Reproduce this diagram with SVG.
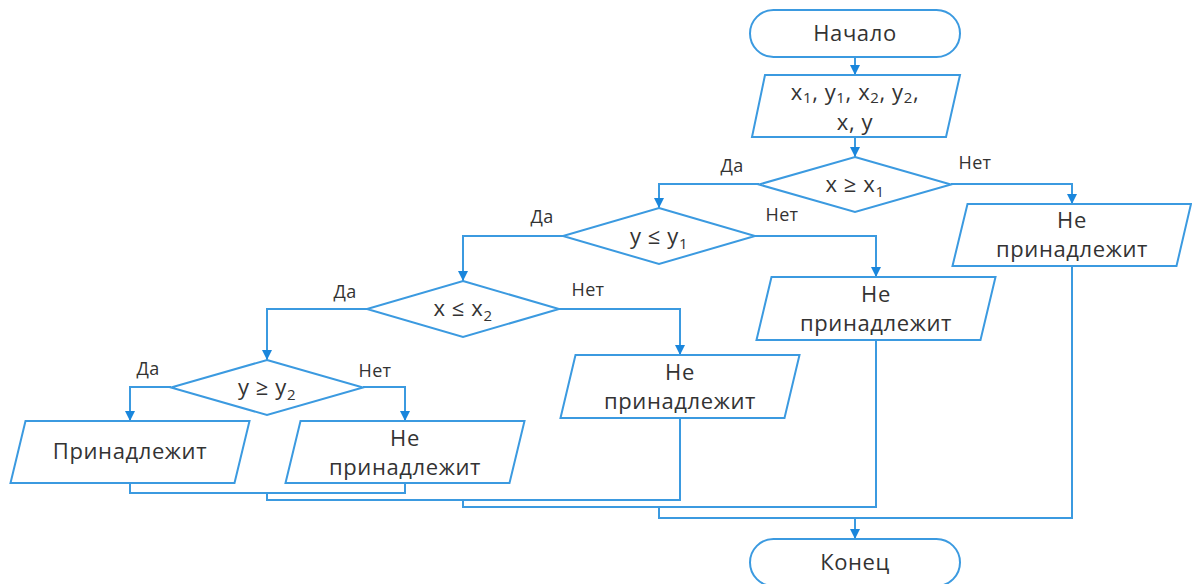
<svg xmlns="http://www.w3.org/2000/svg" width="1192" height="584" viewBox="0 0 1192 584">
<defs>
<style>
.shape{fill:#fff;stroke:#3b9ae0;stroke-width:2}
.line{fill:none;stroke:#3b9ae0;stroke-width:2}
.t{font-family:"Open Sans","Noto Sans","DejaVu Sans",sans-serif;font-size:22px;letter-spacing:0.6px;fill:#333;text-anchor:middle}
.lbl{font-family:"Open Sans","Noto Sans","DejaVu Sans",sans-serif;font-size:18px;letter-spacing:0.3px;fill:#333;text-anchor:middle}
.sub{font-size:15px}
</style>
<marker id="arr" viewBox="0 0 10 10" refX="10" refY="5" markerWidth="5" markerHeight="5" orient="auto" markerUnits="strokeWidth">
<path d="M0,0 L10,5 L0,10 z" fill="#1a86dc"/>
</marker>
</defs>
<rect width="1192" height="584" fill="#fff"/>
<g id="connectors">
<path class="line" d="M855,57 V75" marker-end="url(#arr)"/>
<path class="line" d="M855,137 V157" marker-end="url(#arr)"/>
<path class="line" d="M759,184 H659 V208" marker-end="url(#arr)"/>
<path class="line" d="M951,184 H1072 V204" marker-end="url(#arr)"/>
<path class="line" d="M563,236 H463 V281" marker-end="url(#arr)"/>
<path class="line" d="M755,236 H876 V277" marker-end="url(#arr)"/>
<path class="line" d="M367,309 H267 V360" marker-end="url(#arr)"/>
<path class="line" d="M559,309 H680 V355" marker-end="url(#arr)"/>
<path class="line" d="M171,387 H130 V421" marker-end="url(#arr)"/>
<path class="line" d="M363,387 H405 V421" marker-end="url(#arr)"/>
<path class="line" d="M130,483 V493 H405 V483"/>
<path class="line" d="M267,493 V500 H680 V418"/>
<path class="line" d="M463,500 V507 H876 V340"/>
<path class="line" d="M659,507 V518 H1072 V266"/>
<path class="line" d="M855,518 V539" marker-end="url(#arr)"/>
</g>
<g id="start">
<rect class="shape" x="750" y="10" width="210" height="47" rx="23.5"/>
<text class="t" x="855" y="41">Начало</text>
</g>
<g id="input">
<polygon class="shape" points="765,75 960,75 946,137 752,137"/>
<text class="t" x="855" y="100">x<tspan class="sub" dy="3">1</tspan><tspan dy="-3">, y</tspan><tspan class="sub" dy="3">1</tspan><tspan dy="-3">, x</tspan><tspan class="sub" dy="3">2</tspan><tspan dy="-3">, y</tspan><tspan class="sub" dy="3">2</tspan><tspan dy="-3">,</tspan></text>
<text class="t" x="855" y="130">x, y</text>
</g>
<g id="cond1">
<polygon class="shape" points="855,157 951,184.5 855,212 759,184.5"/>
<text class="t" x="855" y="192">x ≥ x<tspan class="sub" dy="5">1</tspan></text>
<text class="lbl" x="732" y="172">Да</text>
<text class="lbl" x="975" y="169">Нет</text>
</g>
<g id="cond2">
<polygon class="shape" points="659,208 755,236 659,264 563,236"/>
<text class="t" x="659" y="244">y ≤ y<tspan class="sub" dy="5">1</tspan></text>
<text class="lbl" x="542" y="223">Да</text>
<text class="lbl" x="782" y="221">Нет</text>
</g>
<g id="cond3">
<polygon class="shape" points="463,281 559,309 463,337 367,309"/>
<text class="t" x="463" y="316">x ≤ x<tspan class="sub" dy="5">2</tspan></text>
<text class="lbl" x="345" y="298">Да</text>
<text class="lbl" x="588" y="296">Нет</text>
</g>
<g id="cond4">
<polygon class="shape" points="267,360 363,387.5 267,415 171,387.5"/>
<text class="t" x="267" y="395">y ≥ y<tspan class="sub" dy="5">2</tspan></text>
<text class="lbl" x="148" y="375">Да</text>
<text class="lbl" x="375" y="377">Нет</text>
</g>
<g id="out1">
<polygon class="shape" points="25.5,421 249.5,421 234.5,483 10.5,483"/>
<text class="t" x="130" y="459">Принадлежит</text>
</g>
<g id="out2">
<polygon class="shape" points="300.5,421 524.5,421 509.5,483 285.5,483"/>
<text class="t" x="405" y="446">Не</text>
<text class="t" x="405" y="475">принадлежит</text>
</g>
<g id="out3">
<polygon class="shape" points="575.5,355 799.5,355 784.5,418 560.5,418"/>
<text class="t" x="680" y="380">Не</text>
<text class="t" x="680" y="409">принадлежит</text>
</g>
<g id="out4">
<polygon class="shape" points="771.5,277 995.5,277 980.5,340 756.5,340"/>
<text class="t" x="876" y="302">Не</text>
<text class="t" x="876" y="331">принадлежит</text>
</g>
<g id="out5">
<polygon class="shape" points="967.5,204 1191,204 1176.5,266 952.5,266"/>
<text class="t" x="1072" y="228">Не</text>
<text class="t" x="1072" y="257">принадлежит</text>
</g>
<g id="end">
<rect class="shape" x="750" y="539" width="210" height="47" rx="23.5"/>
<text class="t" x="855" y="570">Конец</text>
</g>
</svg>
